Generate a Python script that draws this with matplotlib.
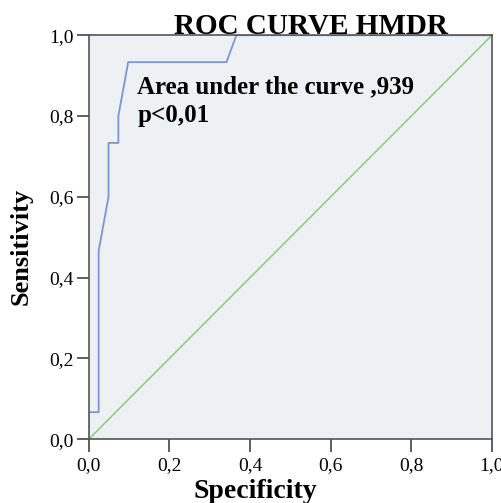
import matplotlib
matplotlib.use("Agg")
import matplotlib.pyplot as plt
import numpy as np

# ROC points (1 - specificity, sensitivity)
fpr = [0.0, 0.0, 0.0244, 0.0244, 0.0488, 0.0488, 0.0732, 0.0732, 0.0976, 0.3415, 0.3659, 1.0]
tpr = [0.0, 0.0667, 0.0667, 0.4667, 0.6, 0.7333, 0.7333, 0.8, 0.9333, 0.9333, 1.0, 1.0]
ref_line = [0.0, 1.0]
ticks = [0.0, 0.2, 0.4, 0.6, 0.8, 1.0]
tick_labels = ["0,0", "0,2", "0,4", "0,6", "0,8", "1,0"]

plt.rcParams['font.family'] = ['Liberation Serif', 'DejaVu Serif']

fig = plt.figure(figsize=(5.02, 5.03), dpi=100)
ax = fig.add_axes([0.177, 0.127, 0.803, 0.803])
ax.set_facecolor('#eef1f4')

ax.plot(ref_line, ref_line, color='#8cc97a', lw=1.1)
ax.plot(fpr, tpr, color='#7a96d4', lw=1.3)

ax.set_xlim(0, 1)
ax.set_ylim(0, 1)
ax.set_xticks(ticks)
ax.set_yticks(ticks)
ax.set_xticklabels(tick_labels, fontsize=14)
ax.set_yticklabels(tick_labels, fontsize=14)
ax.tick_params(direction='out', length=9, width=1.2, color='#444444')
ax.tick_params(axis='x', pad=4)
ax.tick_params(axis='y', pad=2)
for s in ax.spines.values():
    s.set_color('#555555')
    s.set_linewidth(1.2)

ax.set_xlabel('Specificity', fontsize=20, fontweight='bold', va='baseline')
ax.xaxis.set_label_coords(0.412, -0.145)
ax.set_ylabel('Sensitivity', fontsize=19, fontweight='bold')
ax.yaxis.set_label_coords(-0.14, 0.478)

fig.text(0.62, 0.932, 'ROC CURVE HMDR', fontsize=21, fontweight='bold',
         ha='center', va='baseline')
ax.text(0.12, 0.856, 'Area under the curve ,939', fontsize=18, fontweight='bold',
        va='baseline')
ax.text(0.12, 0.785, 'p<0,01', fontsize=18, fontweight='bold', va='baseline')

fig.savefig('out.png', dpi=100)
